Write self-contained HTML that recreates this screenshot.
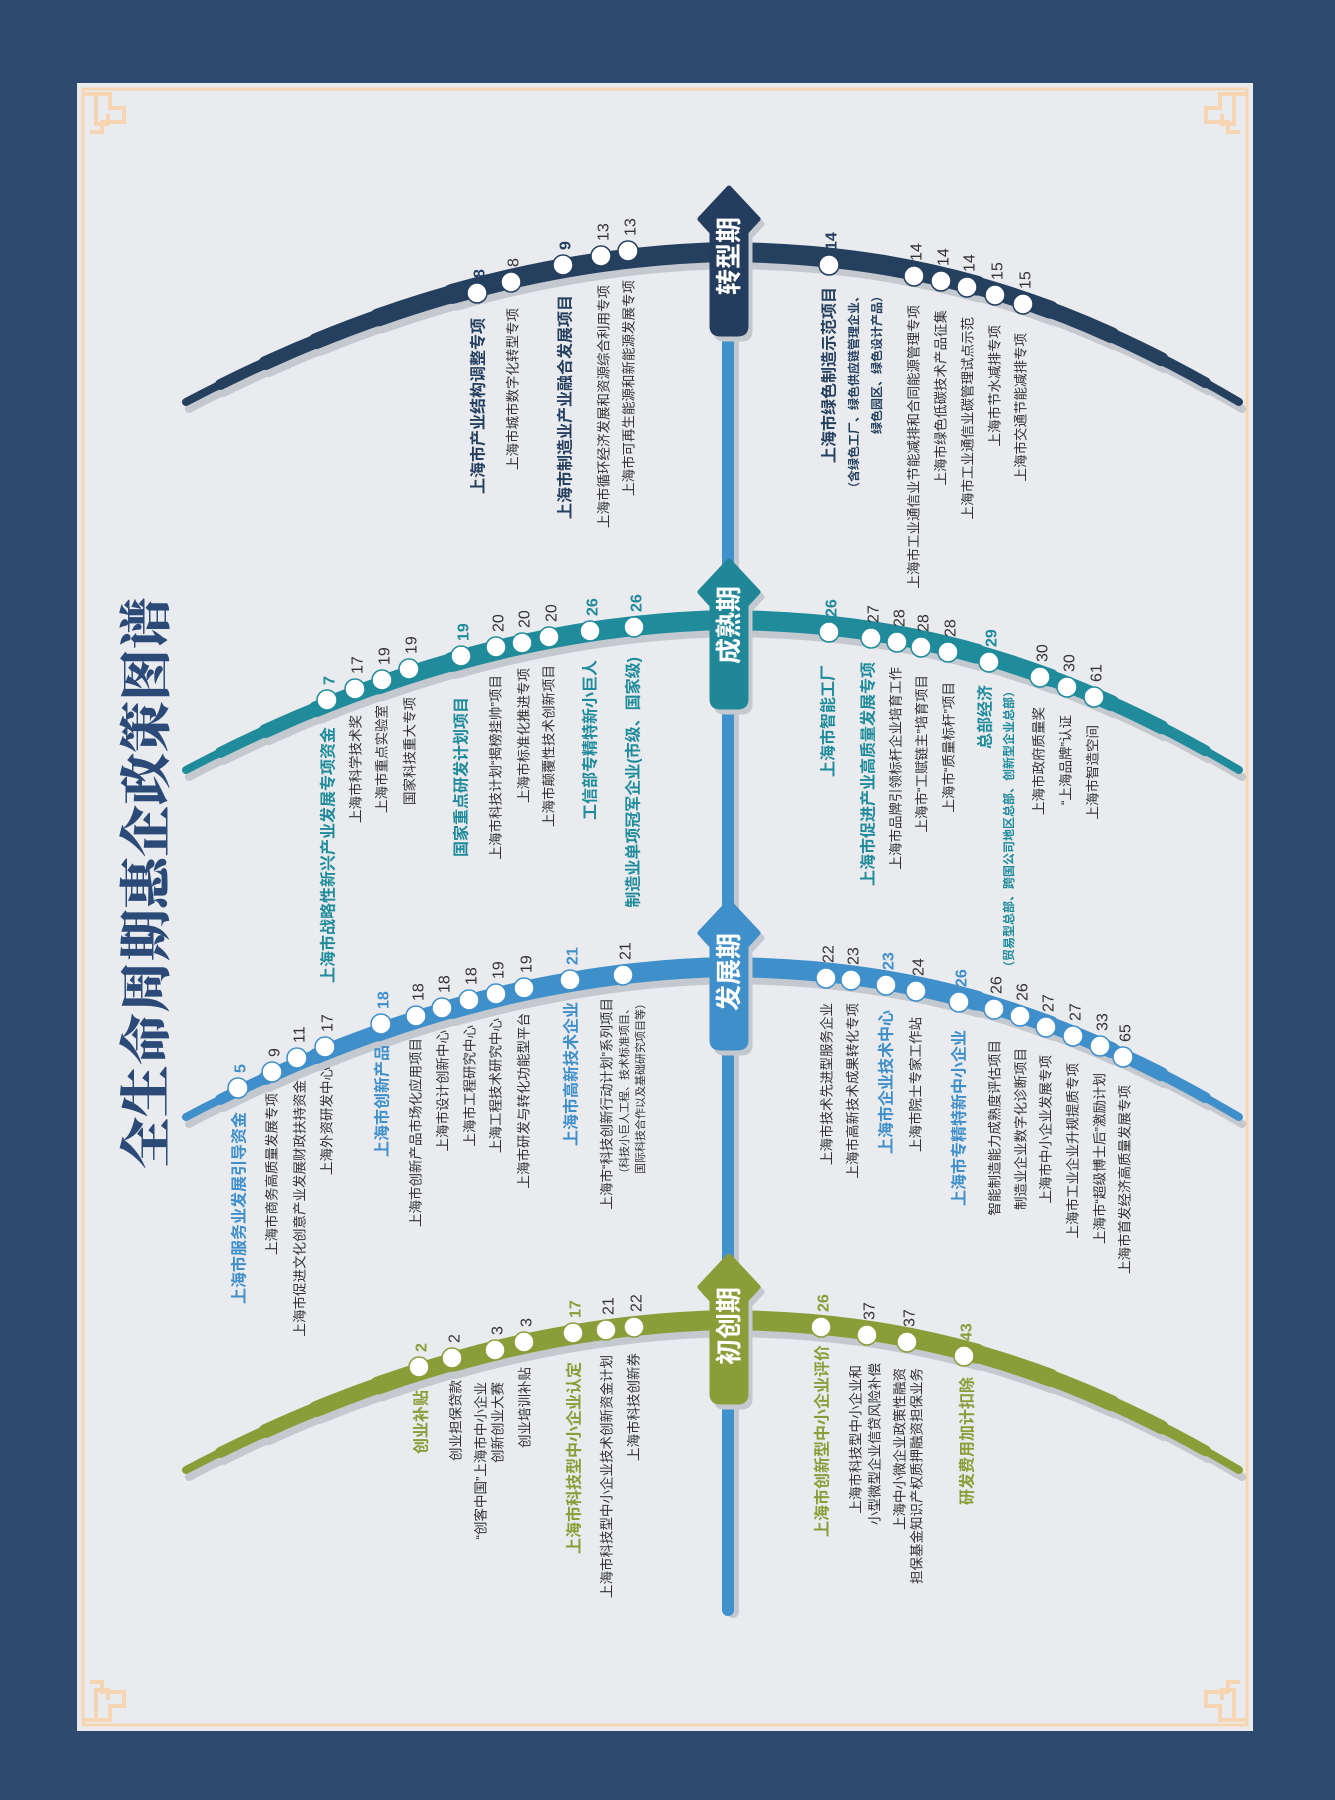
<!DOCTYPE html>
<html><head><meta charset="utf-8">
<style>
html,body{margin:0;padding:0;background:#2e4a6f;}
svg{display:block;}
text{font-family:"Liberation Sans","Noto Sans CJK SC",sans-serif;}
.l{text-anchor:end;dominant-baseline:central;font-size:13.5px;fill:#333;}
.b{font-size:16px;font-weight:bold;}
.s{font-size:12px;font-weight:bold;}
.xs{font-size:11px;}
.n{text-anchor:start;dominant-baseline:central;font-size:16px;fill:#333;}
.nb{font-weight:bold;}
.bx{text-anchor:middle;dominant-baseline:central;font-size:26px;font-weight:bold;fill:#fff;}
</style></head>
<body>
<svg width="1335" height="1800" viewBox="0 0 1335 1800" xmlns="http://www.w3.org/2000/svg">
<rect width="1335" height="1800" fill="#2e4a6f"/>
<rect x="77" y="83" width="1176" height="1648" fill="#e9ebee"/>
<rect x="83" y="89" width="1164" height="1636" fill="none" stroke="#f6d6b2" stroke-width="3"/>
<g fill="none" stroke="#f6d6b2" stroke-width="4">
<path d="M84,94 h26 v14 h14 v14 h-22 v10 h-12 M96,94 v30 h12 v-10"/>
<path d="M1246,94 h-26 v14 h-14 v14 h22 v10 h12 M1234,94 v30 h-12 v-10"/>
<path d="M84,1720 h26 v-14 h14 v-14 h-22 v-10 h-12 M96,1720 v-30 h12 v10"/>
<path d="M1246,1720 h-26 v-14 h-14 v-14 h22 v-10 h12 M1234,1720 v-30 h-12 v10"/>
</g>

<text transform="translate(148,883) rotate(-90)" text-anchor="middle" dominant-baseline="central" style="font-family:'Liberation Serif','Noto Serif CJK SC',serif;font-size:52px;font-weight:900;fill:#2b4a78;">全生命周期惠企政策图谱</text>

<rect x="727" y="300" width="12" height="1318" rx="6" fill="#c4c8cf"/>
<rect x="722" y="300" width="12" height="1316" rx="6" fill="#3f92cd"/>

<defs>
<path id="arc" pathLength="1000" d="M186,402 C380,300 560,255 728,252 C900,254 1050,290 1239,402"/>
<g id="arcs" fill="none" stroke-linecap="round">
<use href="#arc" stroke-width="8"/>
<use href="#arc" stroke-width="11" stroke-dasharray="930 2000" stroke-dashoffset="-35"/>
<use href="#arc" stroke-width="14" stroke-dasharray="840 2000" stroke-dashoffset="-80"/>
<use href="#arc" stroke-width="16" stroke-dasharray="740 2000" stroke-dashoffset="-130"/>
<use href="#arc" stroke-width="18" stroke-dasharray="620 2000" stroke-dashoffset="-190"/>
<use href="#arc" stroke-width="20" stroke-dasharray="480 2000" stroke-dashoffset="-260"/>
</g>
</defs>
<use href="#arcs" transform="translate(3,7)" stroke="#c4c8cf"/>
<use href="#arcs" stroke="#253f5f"/>
<use href="#arcs" transform="translate(3,375)" stroke="#c4c8cf"/>
<use href="#arcs" transform="translate(0,368)" stroke="#1f8b9b"/>
<use href="#arcs" transform="translate(3,722)" stroke="#c4c8cf"/>
<use href="#arcs" transform="translate(0,715)" stroke="#3f8fcb"/>
<use href="#arcs" transform="translate(3,1075)" stroke="#c4c8cf"/>
<use href="#arcs" transform="translate(0,1068)" stroke="#8b9d38"/>

<defs>
<path id="box" d="M0,0 L29,31 L17,44 L17,138 Q17,146 9,146 L-9,146 Q-17,146 -17,138 L-17,44 L-29,31 Z"/>
</defs>
<g stroke-linejoin="round" stroke-width="5">
<use href="#box" transform="translate(733,193)" fill="#c4c8cf" stroke="#c4c8cf"/>
<use href="#box" transform="translate(729,188)" fill="#243d5e" stroke="#243d5e"/>
<use href="#box" transform="translate(733,566)" fill="#c4c8cf" stroke="#c4c8cf"/>
<use href="#box" transform="translate(729,561)" fill="#1f8797" stroke="#1f8797"/>
<use href="#box" transform="translate(733,907)" fill="#c4c8cf" stroke="#c4c8cf"/>
<use href="#box" transform="translate(729,902)" fill="#3f8fcb" stroke="#3f8fcb"/>
<use href="#box" transform="translate(733,1261)" fill="#c4c8cf" stroke="#c4c8cf"/>
<use href="#box" transform="translate(729,1256)" fill="#8b9d38" stroke="#8b9d38"/>
</g>
<text class="bx" transform="translate(729,256) rotate(-90)">转型期</text>
<text class="bx" transform="translate(729,625) rotate(-90)">成熟期</text>
<text class="bx" transform="translate(729,972) rotate(-90)">发展期</text>
<text class="bx" transform="translate(729,1326) rotate(-90)">初创期</text>

<g fill="#fff" stroke-width="1.5">
<g stroke="#253f5f">
<circle cx="477" cy="293" r="10"/><circle cx="511" cy="282" r="10"/><circle cx="563" cy="265" r="10"/><circle cx="601" cy="256" r="10"/><circle cx="628" cy="251" r="10"/>
<circle cx="829" cy="265" r="10"/><circle cx="914" cy="276" r="10"/><circle cx="941" cy="281" r="10"/><circle cx="967" cy="287" r="10"/><circle cx="995" cy="295" r="10"/><circle cx="1023" cy="304" r="10"/>
</g>
<g stroke="#1f8b9b">
<circle cx="327" cy="700" r="10"/><circle cx="355" cy="689" r="10"/><circle cx="382" cy="680" r="10"/><circle cx="409" cy="669" r="10"/><circle cx="461" cy="656" r="10"/><circle cx="496" cy="647" r="10"/><circle cx="522" cy="643" r="10"/><circle cx="549" cy="637" r="10"/><circle cx="590" cy="631" r="10"/><circle cx="634" cy="627" r="10"/>
<circle cx="829" cy="632" r="10"/><circle cx="871" cy="638" r="10"/><circle cx="897" cy="642" r="10"/><circle cx="921" cy="647" r="10"/><circle cx="948" cy="652" r="10"/><circle cx="989" cy="662" r="10"/><circle cx="1040" cy="677" r="10"/><circle cx="1067" cy="687" r="10"/><circle cx="1094" cy="697" r="10"/>
</g>
<g stroke="#3f8fcb">
<circle cx="238" cy="1088" r="10"/><circle cx="272" cy="1072" r="10"/><circle cx="297" cy="1058" r="10"/><circle cx="325" cy="1047" r="10"/><circle cx="381" cy="1024" r="10"/><circle cx="416" cy="1016" r="10"/><circle cx="442" cy="1008" r="10"/><circle cx="469" cy="1000" r="10"/><circle cx="496" cy="994" r="10"/><circle cx="524" cy="988" r="10"/><circle cx="570" cy="980" r="10"/><circle cx="623" cy="975" r="10"/>
<circle cx="826" cy="978" r="10"/><circle cx="851" cy="980" r="10"/><circle cx="886" cy="985" r="10"/><circle cx="916" cy="991" r="10"/><circle cx="959" cy="1002" r="10"/><circle cx="994" cy="1009" r="10"/><circle cx="1020" cy="1016" r="10"/><circle cx="1046" cy="1027" r="10"/><circle cx="1073" cy="1036" r="10"/><circle cx="1100" cy="1046" r="10"/><circle cx="1123" cy="1057" r="10"/>
</g>
<g stroke="#8b9d38">
<circle cx="419" cy="1367" r="10"/><circle cx="452" cy="1358" r="10"/><circle cx="495" cy="1350" r="10"/><circle cx="524" cy="1342" r="10"/><circle cx="573" cy="1333" r="10"/><circle cx="606" cy="1330" r="10"/><circle cx="634" cy="1327" r="10"/>
<circle cx="821" cy="1327" r="10"/><circle cx="867" cy="1335" r="10"/><circle cx="907" cy="1342" r="10"/><circle cx="964" cy="1356" r="10"/>
</g>
</g>

<g>
<text class="n nb" style="fill:#253f5f" transform="translate(480,278) rotate(-90)">8</text>
<text class="n" transform="translate(514,267) rotate(-90)">8</text>
<text class="n nb" style="fill:#253f5f" transform="translate(566,250) rotate(-90)">9</text>
<text class="n" transform="translate(604,241) rotate(-90)">13</text>
<text class="n" transform="translate(631,236) rotate(-90)">13</text>
<text class="n nb" style="fill:#253f5f" transform="translate(832,250) rotate(-90)">14</text>
<text class="n" transform="translate(917,261) rotate(-90)">14</text>
<text class="n" transform="translate(944,266) rotate(-90)">14</text>
<text class="n" transform="translate(970,272) rotate(-90)">14</text>
<text class="n" transform="translate(998,280) rotate(-90)">15</text>
<text class="n" transform="translate(1026,289) rotate(-90)">15</text>
</g>
<g>
<text class="n nb" style="fill:#1f8b9b" transform="translate(330,685) rotate(-90)">7</text>
<text class="n" transform="translate(358,674) rotate(-90)">17</text>
<text class="n" transform="translate(385,665) rotate(-90)">19</text>
<text class="n" transform="translate(412,654) rotate(-90)">19</text>
<text class="n nb" style="fill:#1f8b9b" transform="translate(464,641) rotate(-90)">19</text>
<text class="n" transform="translate(499,632) rotate(-90)">20</text>
<text class="n" transform="translate(525,628) rotate(-90)">20</text>
<text class="n" transform="translate(552,622) rotate(-90)">20</text>
<text class="n nb" style="fill:#1f8b9b" transform="translate(593,616) rotate(-90)">26</text>
<text class="n nb" style="fill:#1f8b9b" transform="translate(637,612) rotate(-90)">26</text>
<text class="n nb" style="fill:#1f8b9b" transform="translate(832,617) rotate(-90)">26</text>
<text class="n" transform="translate(874,623) rotate(-90)">27</text>
<text class="n" transform="translate(900,627) rotate(-90)">28</text>
<text class="n" transform="translate(924,632) rotate(-90)">28</text>
<text class="n" transform="translate(951,637) rotate(-90)">28</text>
<text class="n nb" style="fill:#1f8b9b" transform="translate(992,647) rotate(-90)">29</text>
<text class="n" transform="translate(1043,662) rotate(-90)">30</text>
<text class="n" transform="translate(1070,672) rotate(-90)">30</text>
<text class="n" transform="translate(1097,682) rotate(-90)">61</text>
</g>
<g>
<text class="n nb" style="fill:#3f8fcb" transform="translate(241,1073) rotate(-90)">5</text>
<text class="n" transform="translate(275,1057) rotate(-90)">9</text>
<text class="n" transform="translate(300,1043) rotate(-90)">11</text>
<text class="n" transform="translate(328,1032) rotate(-90)">17</text>
<text class="n nb" style="fill:#3f8fcb" transform="translate(384,1009) rotate(-90)">18</text>
<text class="n" transform="translate(419,1001) rotate(-90)">18</text>
<text class="n" transform="translate(445,993) rotate(-90)">18</text>
<text class="n" transform="translate(472,985) rotate(-90)">18</text>
<text class="n" transform="translate(499,979) rotate(-90)">19</text>
<text class="n" transform="translate(527,973) rotate(-90)">19</text>
<text class="n nb" style="fill:#3f8fcb" transform="translate(573,965) rotate(-90)">21</text>
<text class="n" transform="translate(626,960) rotate(-90)">21</text>
<text class="n" transform="translate(829,963) rotate(-90)">22</text>
<text class="n" transform="translate(854,965) rotate(-90)">23</text>
<text class="n nb" style="fill:#3f8fcb" transform="translate(889,970) rotate(-90)">23</text>
<text class="n" transform="translate(919,976) rotate(-90)">24</text>
<text class="n nb" style="fill:#3f8fcb" transform="translate(962,987) rotate(-90)">26</text>
<text class="n" transform="translate(997,994) rotate(-90)">26</text>
<text class="n" transform="translate(1023,1001) rotate(-90)">26</text>
<text class="n" transform="translate(1049,1012) rotate(-90)">27</text>
<text class="n" transform="translate(1076,1021) rotate(-90)">27</text>
<text class="n" transform="translate(1103,1031) rotate(-90)">33</text>
<text class="n" transform="translate(1126,1042) rotate(-90)">65</text>
</g>
<g>
<text class="n nb" style="fill:#8b9d38" transform="translate(422,1352) rotate(-90)">2</text>
<text class="n" transform="translate(455,1343) rotate(-90)">2</text>
<text class="n" transform="translate(498,1335) rotate(-90)">3</text>
<text class="n" transform="translate(527,1327) rotate(-90)">3</text>
<text class="n nb" style="fill:#8b9d38" transform="translate(576,1318) rotate(-90)">17</text>
<text class="n" transform="translate(609,1315) rotate(-90)">21</text>
<text class="n" transform="translate(637,1312) rotate(-90)">22</text>
<text class="n nb" style="fill:#8b9d38" transform="translate(824,1312) rotate(-90)">26</text>
<text class="n" transform="translate(870,1320) rotate(-90)">37</text>
<text class="n" transform="translate(910,1327) rotate(-90)">37</text>
<text class="n nb" style="fill:#8b9d38" transform="translate(967,1341) rotate(-90)">43</text>
</g>

<g>
<text class="l b" style="fill:#253f5f" transform="translate(479,318) rotate(-90)">上海市产业结构调整专项</text>
<text class="l" transform="translate(513,308) rotate(-90)">上海市城市数字化转型专项</text>
<text class="l b" style="fill:#253f5f" transform="translate(566,295) rotate(-90)">上海市制造业产业融合发展项目</text>
<text class="l" transform="translate(604,285) rotate(-90)">上海市循环经济发展和资源综合利用专项</text>
<text class="l" transform="translate(629,280) rotate(-90)">上海市可再生能源和新能源发展专项</text>
<text class="l b" style="fill:#253f5f" transform="translate(830,287) rotate(-90)">上海市绿色制造示范项目</text>
<text class="l s" style="fill:#253f5f" transform="translate(854,290) rotate(-90)">（含绿色工厂、绿色供应链管理企业、</text>
<text class="l s" style="fill:#253f5f" transform="translate(877,290) rotate(-90)">绿色园区、绿色设计产品）</text>
<text class="l" transform="translate(914,305) rotate(-90)">上海市工业通信业节能减排和合同能源管理专项</text>
<text class="l" transform="translate(941,310) rotate(-90)">上海市绿色低碳技术产品征集</text>
<text class="l" transform="translate(968,317) rotate(-90)">上海市工业通信业碳管理试点示范</text>
<text class="l" transform="translate(995,325) rotate(-90)">上海市节水减排专项</text>
<text class="l" transform="translate(1021,333) rotate(-90)">上海市交通节能减排专项</text>
</g>
<g>
<text class="l b" style="fill:#1f8b9b" transform="translate(329,727) rotate(-90)">上海市战略性新兴产业发展专项资金</text>
<text class="l" transform="translate(356,715) rotate(-90)">上海市科学技术奖</text>
<text class="l" transform="translate(382,705) rotate(-90)">上海市重点实验室</text>
<text class="l" transform="translate(410,697) rotate(-90)">国家科技重大专项</text>
<text class="l b" style="fill:#1f8b9b" transform="translate(462,697) rotate(-90)">国家重点研发计划项目</text>
<text class="l" transform="translate(496,675) rotate(-90)">上海市科技计划“揭榜挂帅”项目</text>
<text class="l" transform="translate(524,668) rotate(-90)">上海市标准化推进专项</text>
<text class="l" transform="translate(549,665) rotate(-90)">上海市颠覆性技术创新项目</text>
<text class="l b" style="fill:#1f8b9b" transform="translate(591,660) rotate(-90)">工信部专精特新小巨人</text>
<text class="l b" style="fill:#1f8b9b" transform="translate(634,657) rotate(-90)">制造业单项冠军企业(市级、国家级)</text>
<text class="l b" style="fill:#1f8b9b" transform="translate(829,665) rotate(-90)">上海市智能工厂</text>
<text class="l b" style="fill:#1f8b9b" transform="translate(869,662) rotate(-90)">上海市促进产业高质量发展专项</text>
<text class="l" transform="translate(896,667) rotate(-90)">上海市品牌引领标杆企业培育工作</text>
<text class="l" transform="translate(922,675) rotate(-90)">上海市“工赋链主”培育项目</text>
<text class="l" transform="translate(949,682) rotate(-90)">上海市“质量标杆”项目</text>
<text class="l b" style="fill:#1f8b9b" transform="translate(986,685) rotate(-90)">总部经济</text>
<text class="l s" style="fill:#1f8b9b" transform="translate(1009,685) rotate(-90)">（贸易型总部、跨国公司地区总部、创新型企业总部）</text>
<text class="l" transform="translate(1039,707) rotate(-90)">上海市政府质量奖</text>
<text class="l" transform="translate(1066,715) rotate(-90)">“上海品牌”认证</text>
<text class="l" transform="translate(1093,725) rotate(-90)">上海市智造空间</text>
</g>
<g>
<text class="l b" style="fill:#3f8fcb" transform="translate(240,1112) rotate(-90)">上海市服务业发展引导资金</text>
<text class="l" transform="translate(272,1093) rotate(-90)">上海市商务高质量发展专项</text>
<text class="l" transform="translate(300,1080) rotate(-90)">上海市促进文化创意产业发展财政扶持资金</text>
<text class="l" transform="translate(327,1067) rotate(-90)">上海外资研发中心</text>
<text class="l b" style="fill:#3f8fcb" transform="translate(383,1045) rotate(-90)">上海市创新产品</text>
<text class="l" transform="translate(416,1038) rotate(-90)">上海市创新产品市场化应用项目</text>
<text class="l" transform="translate(443,1030) rotate(-90)">上海市设计创新中心</text>
<text class="l" transform="translate(470,1025) rotate(-90)">上海市工程研究中心</text>
<text class="l" transform="translate(496,1018) rotate(-90)">上海工程技术研究中心</text>
<text class="l" transform="translate(524,1013) rotate(-90)">上海市研发与转化功能型平台</text>
<text class="l b" style="fill:#3f8fcb" transform="translate(572,1002) rotate(-90)">上海市高新技术企业</text>
<text class="l" transform="translate(607,998) rotate(-90)">上海市“科技创新行动计划”系列项目</text>
<text class="l xs" transform="translate(625,1003) rotate(-90)">（科技小巨人工程、技术标准项目、</text>
<text class="l xs" transform="translate(641,998) rotate(-90)">国际科技合作以及基础研究项目等）</text>
<text class="l" transform="translate(827,1003) rotate(-90)">上海市技术先进型服务企业</text>
<text class="l" transform="translate(853,1003) rotate(-90)">上海市高新技术成果转化专项</text>
<text class="l b" style="fill:#3f8fcb" transform="translate(887,1010) rotate(-90)">上海市企业技术中心</text>
<text class="l" transform="translate(916,1017) rotate(-90)">上海市院士专家工作站</text>
<text class="l b" style="fill:#3f8fcb" transform="translate(960,1030) rotate(-90)">上海市专精特新中小企业</text>
<text class="l" transform="translate(995,1040) rotate(-90)">智能制造能力成熟度评估项目</text>
<text class="l" transform="translate(1021,1048) rotate(-90)">制造业企业数字化诊断项目</text>
<text class="l" transform="translate(1046,1055) rotate(-90)">上海市中小企业发展专项</text>
<text class="l" transform="translate(1073,1063) rotate(-90)">上海市工业企业升规提质专项</text>
<text class="l" transform="translate(1100,1073) rotate(-90)">上海市“超级博士后”激励计划</text>
<text class="l" transform="translate(1125,1085) rotate(-90)">上海市首发经济高质量发展专项</text>
</g>
<g>
<text class="l b" style="fill:#8b9d38" transform="translate(422,1390) rotate(-90)">创业补贴</text>
<text class="l" transform="translate(456,1380) rotate(-90)">创业担保贷款</text>
<text class="l" transform="translate(481,1382) rotate(-90)">“创客中国”上海市中小企业</text>
<text class="l" transform="translate(498,1382) rotate(-90)">创新创业大赛</text>
<text class="l" transform="translate(525,1367) rotate(-90)">创业培训补贴</text>
<text class="l b" style="fill:#8b9d38" transform="translate(575,1362) rotate(-90)">上海市科技型中小企业认定</text>
<text class="l" transform="translate(607,1355) rotate(-90)">上海市科技型中小企业技术创新资金计划</text>
<text class="l" transform="translate(634,1353) rotate(-90)">上海市科技创新券</text>
<text class="l b" style="fill:#8b9d38" transform="translate(823,1345) rotate(-90)">上海市创新型中小企业评价</text>
<text class="l" transform="translate(856,1365) rotate(-90)">上海市科技型中小企业和</text>
<text class="l" transform="translate(875,1363) rotate(-90)">小型微型企业信贷风险补偿</text>
<text class="l" transform="translate(900,1368) rotate(-90)">上海中小微企业政策性融资</text>
<text class="l" transform="translate(917,1368) rotate(-90)">担保基金知识产权质押融资担保业务</text>
<text class="l b" style="fill:#8b9d38" transform="translate(968,1377) rotate(-90)">研发费用加计扣除</text>
</g>
</svg>
</body></html>
